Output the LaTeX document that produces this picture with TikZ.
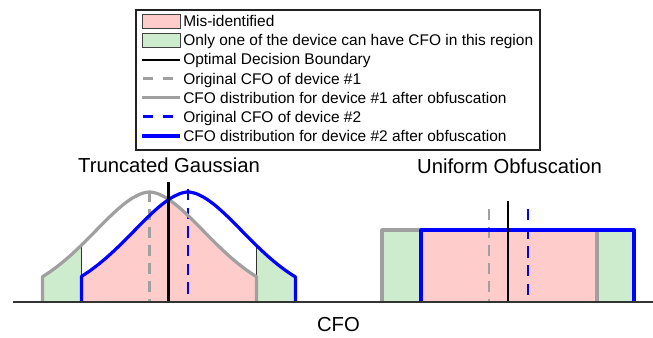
\documentclass[tikz,border=0pt]{standalone}
\usepackage{fontspec}
\setmainfont{Liberation Sans}
\definecolor{pinkfill}{HTML}{FFCCCC}
\definecolor{greenfill}{HTML}{CDEBCD}
\definecolor{curvegray}{HTML}{A0A0A0}
\definecolor{framegray}{HTML}{222222}
\begin{document}
\begin{tikzpicture}[x=0.75pt,y=-0.75pt,
  declare function={hg(\d)=110*exp(-exp(1.77*ln(abs(\d)/86.1+0.0001)));},
  legtext/.style={anchor=base west,inner sep=0pt,font=\fontsize{11.6}{13}\selectfont},
  titletext/.style={anchor=base,inner sep=0pt,font=\fontsize{15.2}{18}\selectfont},
  grayline/.style={curvegray,line width=2.4pt,line join=round},
  blueline/.style={blue,line width=2.4pt,line join=round},
  decline/.style={black,line width=1.8pt},
  graydash/.style={curvegray,line width=1.9pt,dash pattern=on 8pt off 5.5pt},
  bluedash/.style={blue,line width=1.9pt,dash pattern=on 8.5pt off 5.5pt},
  pinkreg/.style={fill=pinkfill},
  greenreg/.style={fill=greenfill,draw=black!80,line width=0.6pt},
  swatch/.style={draw=black!75,line width=0.75pt},
  axisline/.style={draw=black!80,line width=1.1pt}
]
\useasboundingbox (0,0) rectangle (653,337);

% ---------- legend ----------
\draw[framegray,line width=1.5pt,fill=white] (136,10) rectangle (540,150);
\draw[swatch,fill=pinkfill] (142,14.5) rectangle (180,28.5);
\node[legtext] (l1) at (183,26.7) {Mis-identified};
\draw[swatch,fill=greenfill] (142,33.6) rectangle (180,47.6);
\node[legtext] (l2) at (183,45.8) {Only one of the device can have CFO in this region};
\draw[black,line width=1.5pt] (142,59.5) -- (180,59.5);
\node[legtext] (l3) at (183,64.9) {Optimal Decision Boundary};
\draw[curvegray,line width=2.25pt,dash pattern=on 7.5pt off 7.5pt] (143,78.6) -- (180,78.6);
\node[legtext] (l4) at (183,84) {Original CFO of device \#1};
\draw[curvegray,line width=2.6pt] (142,97.7) -- (180,97.7);
\node[legtext] (l5) at (183,103.1) {CFO distribution for device \#1 after obfuscation};
\draw[blue,line width=2.25pt,dash pattern=on 7.5pt off 7.5pt] (143,116.8) -- (180,116.8);
\node[legtext] (l6) at (183,122.2) {Original CFO of device \#2};
\draw[blue,line width=2.6pt] (142,135.9) -- (180,135.9);
\node[legtext] (l7) at (183,141.3) {CFO distribution for device \#2 after obfuscation};

% ---------- titles ----------
\node[titletext] (t1) at (169,172.6) {Truncated Gaussian};
\node[titletext] (t2) at (509.5,173.2) {Uniform Obfuscation};
\node[titletext] (t3) at (338.5,331) {CFO};

% ---------- left plot (truncated Gaussian) ----------
\fill[pinkreg] (81.5,302) -- plot[domain=81.5:168.75,samples=50] (\x,{302-hg(\x-188)})
  -- plot[domain=168.75:256.5,samples=50] (\x,{302-hg(\x-149.5)}) -- (256.5,302) -- cycle;
\draw[greenreg] (42.5,302) -- plot[domain=42.5:81.5,samples=20] (\x,{302-hg(\x-149.5)}) -- (81.5,302) -- cycle;
\draw[greenreg] (256.5,302) -- plot[domain=256.5:295.5,samples=20] (\x,{302-hg(\x-188)}) -- (295.5,302) -- cycle;
\draw[graydash] (149.5,191) -- (149.5,302);
\draw[bluedash] (188,189) -- (188,302);
\draw[grayline] (42.5,302) -- plot[domain=42.5:256.5,samples=100] (\x,{302-hg(\x-149.5)}) -- (256.5,302);
\draw[blueline] (81.5,302) -- plot[domain=81.5:295.5,samples=100] (\x,{302-hg(\x-188)}) -- (295.5,302);
\draw[decline] (168.5,182) -- (168.5,302);

% ---------- right plot (uniform) ----------
\fill[pinkreg] (421,230) rectangle (597,302);
\fill[greenfill] (382,230) rectangle (421,302);
\fill[greenfill] (597,230) rectangle (634,302);
\draw[graydash] (489,209) -- (489,302);
\draw[bluedash] (528,209) -- (528,302);
\draw[grayline] (382,302) -- (382,230) -- (597,230) -- (597,302);
\draw[blueline] (421,302) -- (421,230) -- (634,230) -- (634,302);
\draw[decline] (508,201) -- (508,302);

% ---------- axis ----------
\draw[axisline] (13,302) -- (653,302);
\end{tikzpicture}
\end{document}
